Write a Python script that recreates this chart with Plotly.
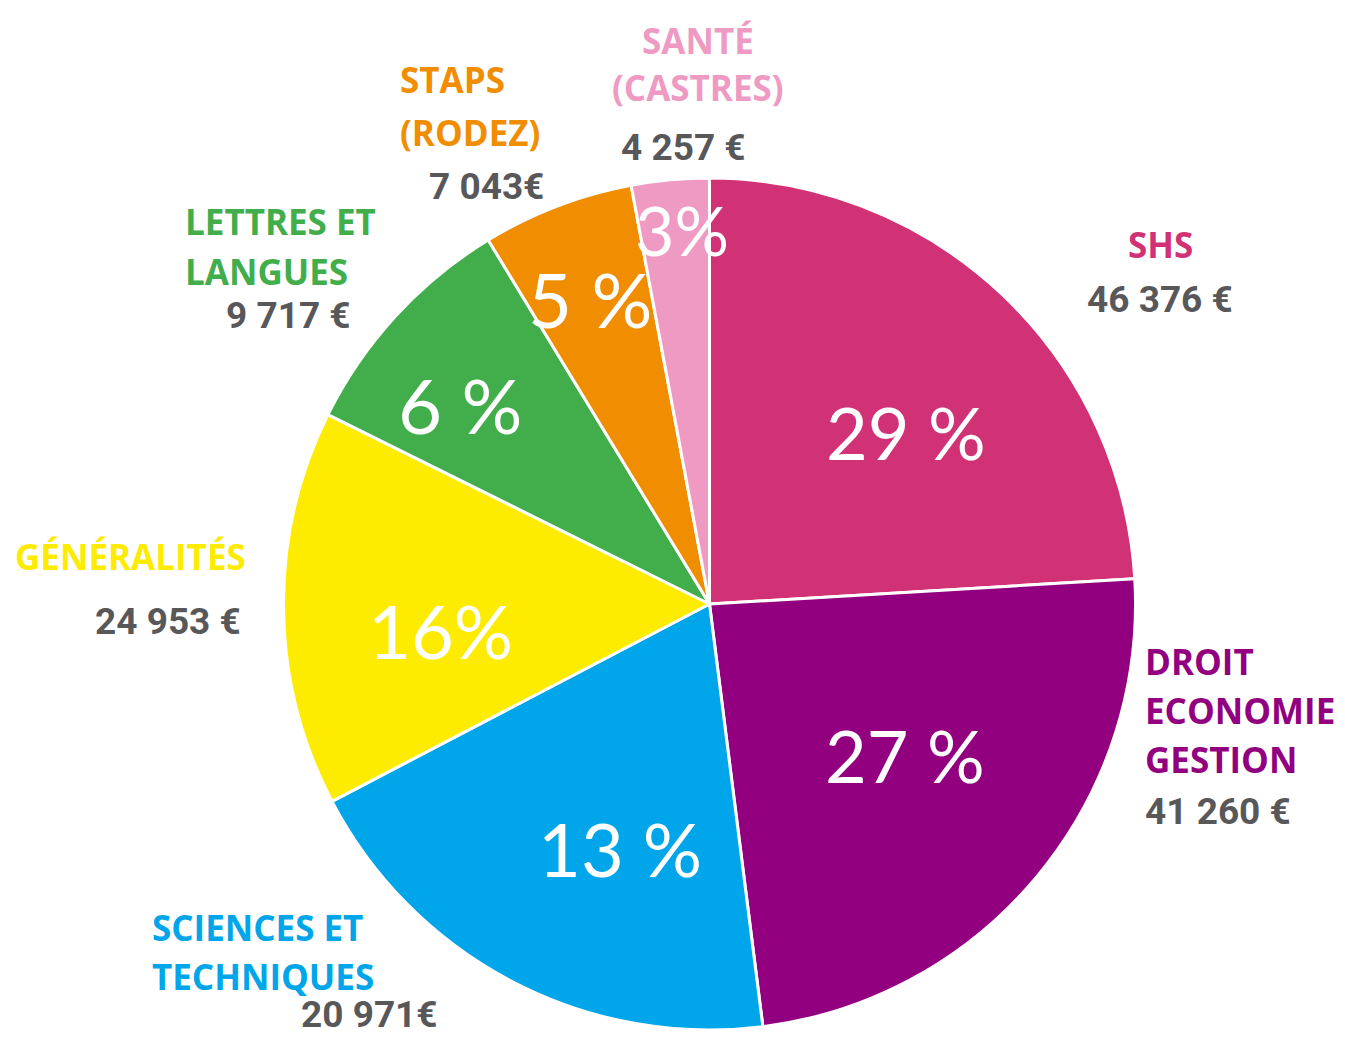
import plotly.graph_objects as go

# ---- data ----
categories = ["SHS", "DROIT ECONOMIE GESTION", "SCIENCES ET TECHNIQUES",
              "GÉNÉRALITÉS", "LETTRES ET LANGUES", "STAPS (RODEZ)", "SANTÉ (CASTRES)"]
# slice sizes as drawn (degrees of arc measured on the picture)
slice_shares = [86.6, 86.2, 69.6, 54.0, 32.3, 20.7, 10.6]
amounts_eur = [46376, 41260, 20971, 24953, 9717, 7043, 4257]
amount_labels = ["46 376 €", "41 260 €", "20 971€", "24 953 €", "9 717 €", "7 043€", "4 257 €"]
percent_labels = ["29 %", "27 %", "13 %", "16%", "6 %", "5 %", "3%"]
name_lines = [["SHS"], ["DROIT", "ECONOMIE", "GESTION"], ["SCIENCES ET", "TECHNIQUES"],
              ["GÉNÉRALITÉS"], ["LETTRES ET", "LANGUES"], ["STAPS", "(RODEZ)"],
              ["SANTÉ", "(CASTRES)"]]
colors = ["#D13175", "#92007F", "#00A6E9", "#FDEB00", "#42AE4B", "#F08D00", "#EE9AC3"]

# ---- layout helpers (pixel positions of text) ----
W, H = 1345, 1041
cx, cy, r = 709.5, 604, 426

name_pos = [  # (x, first-line y, line pitch, anchor)
    (1160, 245, 49, "center"),
    (1143, 661, 49, "left"),
    (150, 927, 49, "left"),
    (13, 556, 49, "left"),
    (183, 222, 49, "left"),
    (398, 79, 53, "left"),
    (698, 40, 48, "center"),
]
value_pos = [
    (1160, 299, "center"),
    (1143, 811, "left"),
    (440, 1014, "right"),
    (243, 621, "right"),
    (353, 315, "right"),
    (546, 186, "right"),
    (684, 147, "center"),
]
pct_pos = [(906, 432, 72), (905, 755, 72), (620, 848, 74), (440, 630, 74),
           (460, 405, 76), (590, 298, 76), (682, 229, 68)]

GRAY = "#58585A"

fig = go.Figure(go.Pie(
    labels=categories,
    values=slice_shares,
    customdata=amounts_eur,
    sort=False,
    direction="clockwise",
    rotation=0,
    marker=dict(colors=colors, line=dict(color="white", width=3)),
    textinfo="none",
    hoverinfo="label",
    showlegend=False,
    domain=dict(x=[(cx - r) / W, (cx + r) / W], y=[(H - cy - r) / H, (H - cy + r) / H]),
))

ann = []
def px(x, y):
    return x / W, 1 - y / H

for i in range(len(categories)):
    x0, y0, pitch, anc = name_pos[i]
    for j, line in enumerate(name_lines[i]):
        x, y = px(x0, y0 + j * pitch)
        ann.append(dict(x=x, y=y, xref="paper", yref="paper", text=line, showarrow=False,
                        xanchor=anc, yanchor="middle",
                        font=dict(family="Open Sans", size=35, color=colors[i], weight="bold")))
    vx, vy, vanc = value_pos[i]
    x, y = px(vx, vy)
    ann.append(dict(x=x, y=y, xref="paper", yref="paper", text=amount_labels[i], showarrow=False,
                    xanchor=vanc, yanchor="middle",
                    font=dict(family="Roboto", size=37, color=GRAY, weight="bold")))
    pxx, pyy, fs = pct_pos[i]
    x, y = px(pxx, pyy)
    ann.append(dict(x=x, y=y, xref="paper", yref="paper", text=percent_labels[i], showarrow=False,
                    xanchor="center", yanchor="middle",
                    font=dict(family="Lato", size=fs, color="white", weight=400)))

fig.update_layout(
    width=W, height=H, autosize=False,
    margin=dict(l=0, r=0, t=0, b=0),
    paper_bgcolor="white", plot_bgcolor="white",
    annotations=ann,
)

fig.write_html("out.html", config={"displayModeBar": False},
               post_script="document.body.style.margin='0px';document.body.style.padding='0px';")
